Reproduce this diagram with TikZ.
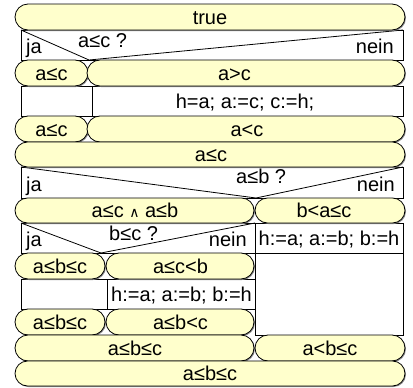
\documentclass[tikz,border=0pt]{standalone}
\usepackage{fontspec}
\setmainfont{Liberation Sans}
\newfontfamily\symfnt{DejaVu Sans}
\definecolor{asfill}{RGB}{255,255,204}
\tikzset{
  asbox/.style={fill=asfill, draw=black, line width=0.8pt},
  asshadow/.style={fill=black!45},
  cell/.style={fill=white, draw=black, line width=0.8pt},
  split/.style={draw=black, line width=0.8pt},
  lbl/.style={inner sep=0pt, font=\fontsize{20}{24}\selectfont},
}
% assertion bar: x1, y1, x2, y2 (rounded ends of half the bar height)
\newcommand\asrt[4]{%
  \pgfmathsetmacro\asrad{(#4-#2)/2}%
  \fill[asshadow, rounded corners=\asrad pt] (#1+1,#2+1) rectangle (#3+1,#4+1);
  \draw[asbox, rounded corners=\asrad pt] (#1,#2) rectangle (#3,#4);
}
\newcommand\conj{{\symfnt\fontsize{14}{14}\selectfont ∧}}
\begin{document}
\begin{tikzpicture}[x=1pt, y=-1pt]
\useasboundingbox (0,0) rectangle (413,388);

% ---- statement cells ----
% decision a<=c ?
\draw[cell] (21,30) rectangle (403,60);
\coordinate (d1l) at (21,30);
\coordinate (d1r) at (403,30);
\coordinate (d1m) at (89,60);
\draw[split] (d1l) -- (d1m) -- (d1r);
% swap a,c
\draw[cell] (21,86) rectangle (92,116);
\draw[cell] (92,86) rectangle (403,116);
% decision a<=b ?
\draw[cell] (21,167) rectangle (403,198);
\coordinate (d2l) at (21,167);
\coordinate (d2r) at (403,167);
\coordinate (d2m) at (256,198);
\draw[split] (d2l) -- (d2m) -- (d2r);
% decision b<=c ?
\draw[cell] (21,223) rectangle (255,253);
\coordinate (d3l) at (21,223);
\coordinate (d3r) at (255,223);
\coordinate (d3m) at (101,253);
\draw[split] (d3l) -- (d3m) -- (d3r);
% swap a,b (right branch)
\draw[cell] (255,223) rectangle (403,253);
\draw[cell] (255,253) rectangle (403,335);
% swap a,b (inner branch)
\draw[cell] (21,279) rectangle (107.5,309);
\draw[cell] (107.5,279) rectangle (255,309);

% ---- assertion bars ----
\asrt{15}{4}{405}{30}
\asrt{15}{60}{88}{86}
\asrt{87}{60}{405}{86}
\asrt{15}{116}{88}{142}
\asrt{87}{116}{405}{142}
\asrt{15}{142}{405}{167}
\asrt{15}{198}{254}{223}
\asrt{255}{198}{405}{223}
\asrt{15}{253}{105}{279}
\asrt{106}{253}{254}{279}
\asrt{15}{309}{105}{335}
\asrt{106}{309}{254}{335}
\asrt{15}{335}{254}{361}
\asrt{255}{335}{405}{361}
\asrt{15}{361}{405}{386}

% ---- texts ----
\node[lbl, anchor=base] (s1) at (210,24) {true};
\node[lbl, anchor=base west] (j1) at (26,53.5) {ja};
\node[lbl, anchor=base west] (q1) at (78,47) {a≤c ?};
\node[lbl, anchor=base east] (n1) at (394,53.5) {nein};
\node[lbl, anchor=base] (s2a) at (51.5,80) {a≤c};
\node[lbl, anchor=base] (s2b) at (234.5,80) {a>c};
\node[lbl, anchor=base] (c1) at (245,108) {h=a; a:=c; c:=h;};
\node[lbl, anchor=base] (s3a) at (51.5,136) {a≤c};
\node[lbl, anchor=base] (s3b) at (247,136) {a<c};
\node[lbl, anchor=base] (s4) at (211,161.5) {a≤c};
\node[lbl, anchor=base west] (j2) at (26,191) {ja};
\node[lbl, anchor=base west] (q2) at (236,183) {a≤b ?};
\node[lbl, anchor=base east] (n2) at (395,191.5) {nein};
\node[lbl, anchor=base] (s5a) at (135,217.5) {a≤c \conj{} a≤b};
\node[lbl, anchor=base] (s5b) at (324,217.5) {b<a≤c};
\node[lbl, anchor=base west] (j3) at (26,246.5) {ja};
\node[lbl, anchor=base west] (q3) at (109,240.5) {b≤c ?};
\node[lbl, anchor=base east] (n3) at (247,246.5) {nein};
\node[lbl, anchor=base] (c2) at (329,245) {h:=a; a:=b; b:=h};
\node[lbl, anchor=base] (s6a) at (60,273) {a≤b≤c};
\node[lbl, anchor=base] (s6b) at (180.5,273) {a≤c<b};
\node[lbl, anchor=base] (c3) at (181.5,301) {h:=a; a:=b; b:=h};
\node[lbl, anchor=base] (s7a) at (60,329) {a≤b≤c};
\node[lbl, anchor=base] (s7b) at (180.5,329) {a≤b<c};
\node[lbl, anchor=base] (s8a) at (135,355) {a≤b≤c};
\node[lbl, anchor=base] (s8b) at (330,355) {a<b≤c};
\node[lbl, anchor=base] (s9) at (210,380.5) {a≤b≤c};
\end{tikzpicture}
\end{document}
